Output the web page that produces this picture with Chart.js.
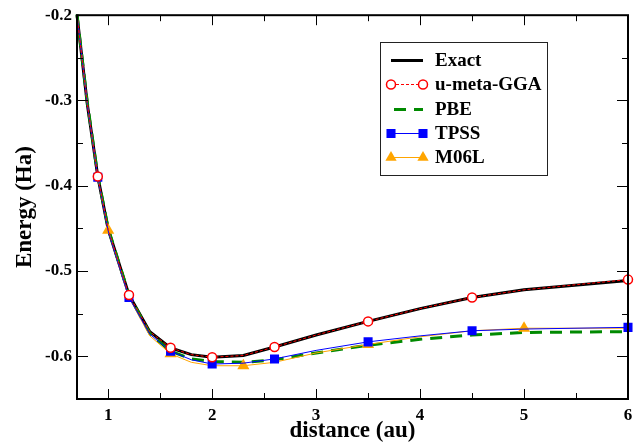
<!DOCTYPE html>
<html>
<head>
<meta charset="utf-8">
<script src="https://cdn.jsdelivr.net/npm/chart.js@4"></script>
<style>
  html, body { margin: 0; padding: 0; background: #fff; }
  #wrap { width: 641px; height: 445px; }
</style>
</head>
<body>
<div id="wrap"><canvas id="energyChart" width="641" height="445"></canvas></div>
<script>
// distance grid (au) and energies (Ha)
var distance = [0.7, 0.8, 0.9, 1.0, 1.2, 1.4, 1.6, 1.8, 2.0, 2.3, 2.6, 3.0, 3.5, 4.0, 4.5, 5.0, 6.0];
var exact    = [-0.200, -0.305, -0.389, -0.451, -0.528, -0.571, -0.590, -0.598, -0.601, -0.599, -0.589, -0.575, -0.559, -0.544, -0.531, -0.522, -0.511];
var uMetaGGA = [-0.200, -0.305, -0.389, -0.451, -0.528, -0.571, -0.590, -0.598, -0.601, -0.599, -0.589, -0.575, -0.559, -0.544, -0.531, -0.522, -0.510];
var pbe      = [-0.199, -0.303, -0.388, -0.450, -0.528, -0.573, -0.594, -0.603, -0.606, -0.607, -0.604, -0.596, -0.587, -0.580, -0.575, -0.572, -0.571];
var tpss     = [-0.199, -0.305, -0.390, -0.453, -0.531, -0.574, -0.594, -0.604, -0.609, -0.608, -0.603, -0.593, -0.583, -0.576, -0.570, -0.568, -0.566];
var m06l     = [-0.199, -0.304, -0.390, -0.452, -0.531, -0.576, -0.597, -0.607, -0.611, -0.611, -0.607, -0.596, -0.586, -0.577, -0.570, -0.567, -0.567];

// distances where each set shows a symbol
var uMetaMarks = [0.9, 1.2, 1.6, 2.0, 2.6, 3.5, 4.5, 6.0];
var tpssMarks  = [0.9, 1.2, 1.6, 2.0, 2.6, 3.5, 4.5, 6.0];
var m06lMarks  = [1.0, 1.6, 2.3, 3.5, 5.0];

var xTicks = [1, 2, 3, 4, 5, 6];
var xTickLabels = ['1', '2', '3', '4', '5', '6'];
var yTicks = [-0.6, -0.5, -0.4, -0.3, -0.2];
var yTickLabels = ['-0.6', '-0.5', '-0.4', '-0.3', '-0.2'];

var serif = "'Liberation Serif', 'DejaVu Serif', serif";

function pts(ys) {
  return distance.map(function (d, i) { return { x: d, y: ys[i] }; });
}
function markAt(list, r) {
  return function (c) { return c.raw && list.indexOf(c.raw.x) >= 0 ? r : 0; };
}

Chart.defaults.font.family = serif;
Chart.defaults.color = '#000';

// inward ticks on all four sides + frame
var frameTicks = {
  id: 'frameTicks',
  afterDatasetsDraw: function (chart) {
    var ctx = chart.ctx, a = chart.chartArea, x = chart.scales.x, y = chart.scales.y;
    ctx.save();
    ctx.strokeStyle = '#000';
    ctx.lineWidth = 1;
    ctx.beginPath();
    xTicks.forEach(function (v, i) {
      var px = Math.round(x.getPixelForValue(v)) + 0.5;
      ctx.moveTo(px, a.bottom); ctx.lineTo(px, a.bottom - 10);
      ctx.moveTo(px, a.top); ctx.lineTo(px, a.top + 10);
      if (i > 0) {
        var mx = Math.round(x.getPixelForValue((v + xTicks[i - 1]) / 2)) + 0.5;
        ctx.moveTo(mx, a.bottom); ctx.lineTo(mx, a.bottom - 6);
        ctx.moveTo(mx, a.top); ctx.lineTo(mx, a.top + 6);
      }
    });
    yTicks.forEach(function (v, i) {
      var py = Math.round(y.getPixelForValue(v)) + 0.5;
      ctx.moveTo(a.left, py); ctx.lineTo(a.left + 11, py);
      ctx.moveTo(a.right, py); ctx.lineTo(a.right - 11, py);
      if (i > 0) {
        var my = Math.round(y.getPixelForValue((v + yTicks[i - 1]) / 2)) + 0.5;
        ctx.moveTo(a.left, my); ctx.lineTo(a.left + 6, my);
        ctx.moveTo(a.right, my); ctx.lineTo(a.right - 6, my);
      }
    });
    ctx.stroke();
    ctx.lineWidth = 2;
    ctx.strokeRect(a.left, a.top, a.right - a.left, a.bottom - a.top);
    ctx.restore();
  }
};

function drawMarker(ctx, style, r, px, py, ds) {
  ctx.save();
  ctx.setLineDash([]);
  ctx.fillStyle = ds.pointBackgroundColor;
  ctx.strokeStyle = ds.pointBorderColor;
  ctx.lineWidth = ds.pointBorderWidth;
  ctx.beginPath();
  if (style === 'circle') {
    ctx.arc(px, py, r, 0, Math.PI * 2);
  } else if (style === 'rect') {
    var s = r * Math.SQRT1_2;
    ctx.rect(px - s, py - s, 2 * s, 2 * s);
  } else if (style === 'triangle') {
    for (var k = 0; k < 3; k++) {
      var ang = k * 2 * Math.PI / 3;
      var vx = px + Math.sin(ang) * r, vy = py - Math.cos(ang) * r;
      if (k === 0) ctx.moveTo(vx, vy); else ctx.lineTo(vx, vy);
    }
    ctx.closePath();
  }
  ctx.fill();
  if (ds.pointBorderWidth > 0) ctx.stroke();
  ctx.restore();
}

// xmgrace-like legend box
var legendBox = {
  id: 'legendBox',
  afterDraw: function (chart) {
    var ctx = chart.ctx;
    ctx.save();
    ctx.fillStyle = '#fff';
    ctx.strokeStyle = '#222';
    ctx.lineWidth = 1;
    ctx.fillRect(380.5, 42.5, 167, 133);
    ctx.strokeRect(380.5, 42.5, 167, 133);
    chart.data.datasets.forEach(function (ds, i) {
      var ly = Math.round(60 + i * 24.3) + 0.5;
      var x1 = ds.legendStart || 391, x2 = 423;
      ctx.beginPath();
      ctx.setLineDash(ds.borderDash || []);
      ctx.lineWidth = ds.borderWidth;
      ctx.strokeStyle = ds.borderColor;
      ctx.moveTo(x1, ly);
      ctx.lineTo(x2, ly);
      ctx.stroke();
      if (ds.legendMarker) {
        drawMarker(ctx, ds.pointStyle, ds.legendMarker, 391, ly, ds);
        drawMarker(ctx, ds.pointStyle, ds.legendMarker, 423, ly, ds);
      }
      ctx.setLineDash([]);
      ctx.fillStyle = '#000';
      ctx.font = 'bold 19px ' + serif;
      ctx.textBaseline = 'middle';
      ctx.textAlign = 'left';
      ctx.fillText(ds.label, 435, ly + 1);
    });
    ctx.restore();
  }
};

var ctx = document.getElementById('energyChart').getContext('2d');
var energyChart = new Chart(ctx, {
  type: 'line',
  data: {
    datasets: [
      {
        label: 'Exact', data: pts(exact), order: 5,
        borderColor: '#000', borderWidth: 3, pointRadius: 0, clip: 8
      },
      {
        label: 'u-meta-GGA', data: pts(uMetaGGA), order: 1,
        borderColor: '#ff0000', borderWidth: 1, borderDash: [3, 2],
        pointStyle: 'circle', pointRadius: markAt(uMetaMarks, 4.5),
        pointBackgroundColor: '#fff', pointBorderColor: '#ff0000', pointBorderWidth: 1.5,
        legendMarker: 4.5, clip: 8
      },
      {
        label: 'PBE', data: pts(pbe), order: 4,
        borderColor: '#008a00', borderWidth: 3, borderDash: [12, 8], pointRadius: 0,
        legendStart: 394, clip: 8
      },
      {
        label: 'TPSS', data: pts(tpss), order: 2,
        borderColor: '#0000ff', borderWidth: 1,
        pointStyle: 'rect', pointRadius: markAt(tpssMarks, 6.4),
        pointBackgroundColor: '#0000ff', pointBorderColor: '#0000ff', pointBorderWidth: 0,
        legendMarker: 6.4, clip: 8
      },
      {
        label: 'M06L', data: pts(m06l), order: 3,
        borderColor: '#ffa500', borderWidth: 1,
        pointStyle: 'triangle', pointRadius: markAt(m06lMarks, 7),
        pointBackgroundColor: '#ffa500', pointBorderColor: '#ffa500', pointBorderWidth: 0,
        legendMarker: 6.5, clip: 8
      }
    ]
  },
  options: {
    responsive: false,
    animation: false,
    events: [],
    layout: { padding: { top: 15, right: 13, left: 0, bottom: 0 } },
    plugins: { legend: { display: false }, tooltip: { enabled: false } },
    elements: { line: { tension: 0 } },
    scales: {
      x: {
        type: 'linear', min: 0.7, max: 6,
        grid: { display: false, drawTicks: false }, border: { display: false },
        afterBuildTicks: function (s) { s.ticks = xTicks.map(function (v) { return { value: v }; }); },
        afterFit: function (s) { s.height = 46; },
        ticks: {
          padding: 6, maxRotation: 0, autoSkip: false,
          font: { size: 17, weight: 'bold' },
          callback: function (v) { var i = xTicks.indexOf(v); return i >= 0 ? xTickLabels[i] : ''; }
        },
        title: {
          display: true, text: 'distance (au)',
          font: { size: 23, weight: 'bold' }, padding: { top: 0, bottom: 0 }
        }
      },
      y: {
        type: 'linear', min: -0.65, max: -0.2,
        grid: { display: false, drawTicks: false }, border: { display: false },
        afterBuildTicks: function (s) { s.ticks = yTicks.map(function (v) { return { value: v }; }); },
        afterFit: function (s) { s.width = 77; },
        ticks: {
          padding: 5, autoSkip: false,
          font: { size: 17, weight: 'bold' },
          callback: function (v) {
            for (var i = 0; i < yTicks.length; i++) if (Math.abs(yTicks[i] - v) < 1e-9) return yTickLabels[i];
            return '';
          }
        },
        title: {
          display: true, text: 'Energy (Ha)',
          font: { size: 23, weight: 'bold' }, padding: { top: 11, bottom: 0 }
        }
      }
    }
  },
  plugins: [frameTicks, legendBox]
});
</script>
</body>
</html>
